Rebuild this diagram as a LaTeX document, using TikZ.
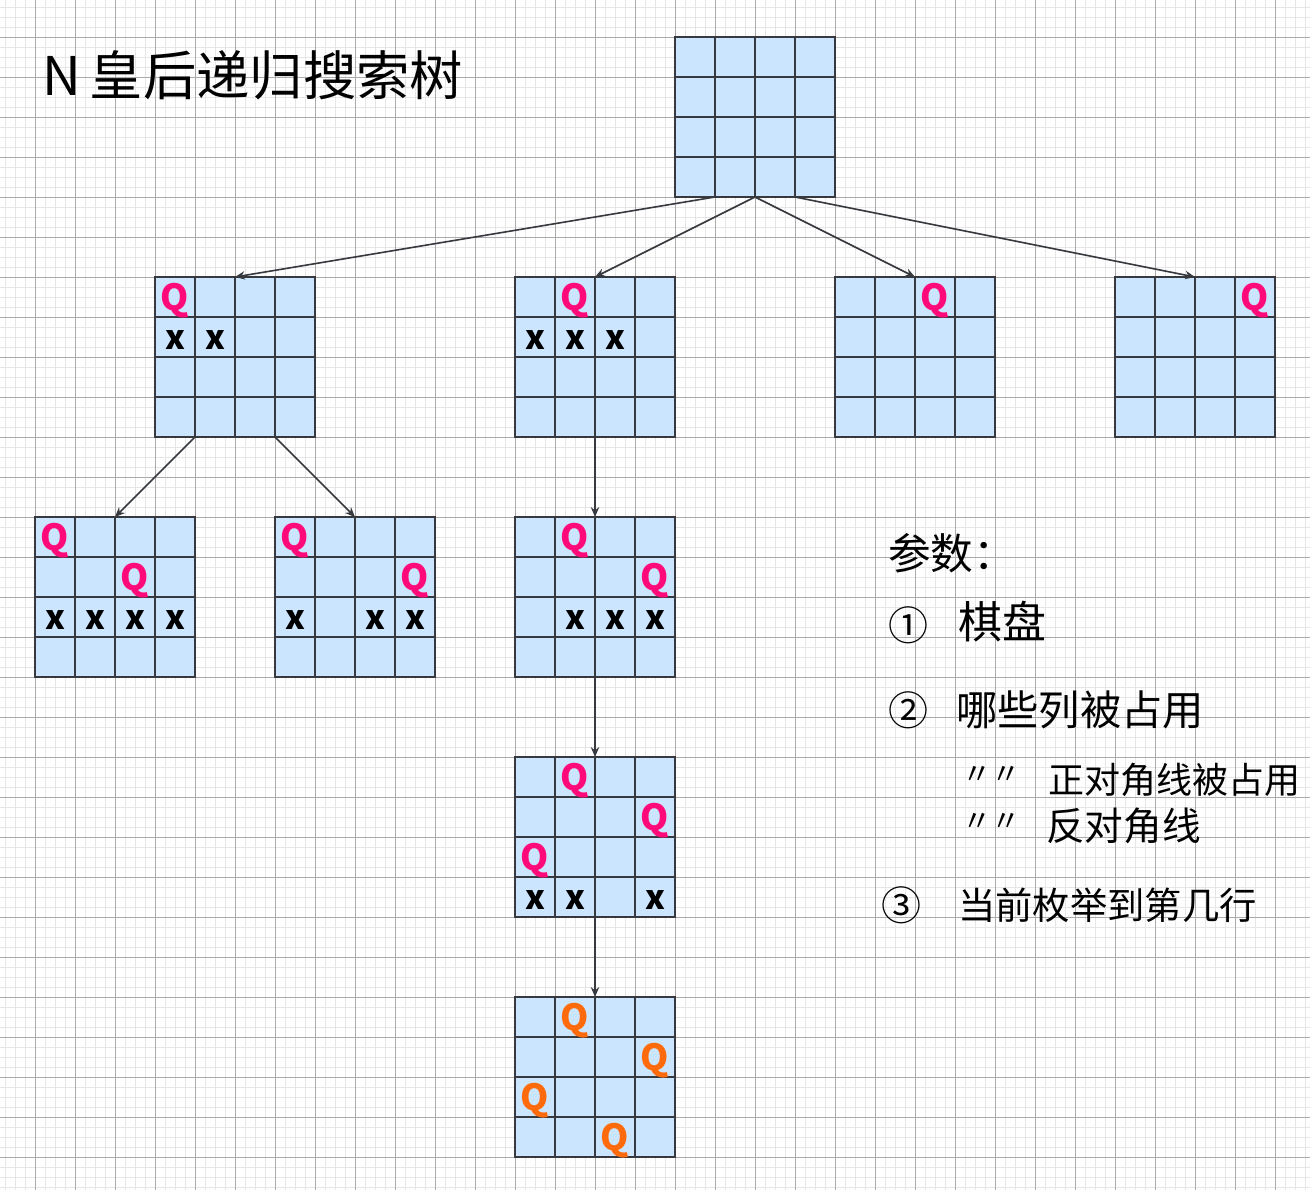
\documentclass[tikz,border=0pt]{standalone}
\usepackage{fontspec}
\setmainfont{Noto Sans CJK SC}
\usetikzlibrary{arrows.meta,positioning,calc}
\definecolor{CellBlue}{HTML}{CCE5FF}
\definecolor{EdgeGray}{HTML}{36393D}
\definecolor{QPink}{HTML}{FF0A78}
\definecolor{QOrange}{HTML}{FF6A0A}
\definecolor{MinorGray}{HTML}{E6E6E6}
\definecolor{MajorGray}{HTML}{ABABAB}

\begin{document}
\begin{tikzpicture}[x=0.75pt,y=-0.75pt,
  board/.style={draw=EdgeGray,line width=0.8pt,fill=CellBlue,
    minimum size=120pt,inner sep=0pt,outer sep=0pt},
  cellline/.style={draw=EdgeGray,line width=0.8pt},
  arr/.style={-{Stealth[length=2.6mm,width=2.2mm]},line width=1.2pt,EdgeGray},
  minorline/.style={MinorGray,line width=0.75pt},
  majorline/.style={MajorGray,line width=0.6pt},
  qp/.style={text=QPink,font=\fontsize{27}{27}\selectfont\bfseries,inner sep=0pt,yshift=-3pt},
  qo/.style={text=QOrange,font=\fontsize{27}{27}\selectfont\bfseries,inner sep=0pt,yshift=-3pt},
  xm/.style={text=black,font=\fontsize{25}{25}\selectfont\bfseries,inner sep=0pt,yshift=-2pt},
  note/.style={anchor=west,inner sep=0pt,text=black}]
  \useasboundingbox (0,0) rectangle (1310,1190);
  % paper
  \fill[white] (0,0) rectangle (1310,1190);
  \foreach \i in {5,15,...,1305} \draw[minorline] (\i,0) -- (\i,1190);
  \foreach \j in {7,17,...,1187} \draw[minorline] (0,\j) -- (1310,\j);
  \foreach \i in {35,75,...,1275} \draw[majorline] (\i,0) -- (\i,1190);
  \foreach \j in {37,77,...,1157} \draw[majorline] (0,\j) -- (1310,\j);

  % boards
  \node[board] (root) at (755,117) {};
  \node[board] (a1) at (235,357) {};
  \node[board] (a2) at (595,357) {};
  \node[board] (a3) at (915,357) {};
  \node[board] (a4) at (1195,357) {};
  \node[board] (b1) at (115,597) {};
  \node[board] (b2) at (355,597) {};
  \node[board] (b3) at (595,597) {};
  \node[board] (c3) at (595,837) {};
  \node[board] (d3) at (595,1077) {};
  \foreach \b in {root,a1,a2,a3,a4,b1,b2,b3,c3,d3}{
    \foreach \k in {1,2,3}{
      \draw[cellline] ($(\b.north west)+(\k*40,0)$) -- ($(\b.south west)+(\k*40,0)$);
      \draw[cellline] ($(\b.north west)+(0,\k*40)$) -- ($(\b.north east)+(0,\k*40)$);
    }
    \foreach \r in {0,...,3}
      \foreach \c in {0,...,3}
        \coordinate (\b-\r\c) at ($(\b.north west)+(\c*40+20,\r*40+20)$);
  }

  % tree edges
  \draw[arr] ($(root.south)+(-40,0)$) -- (a1.north);
  \draw[arr] (root.south) -- (a2.north);
  \draw[arr] (root.south) -- (a3.north);
  \draw[arr] ($(root.south)+(40,0)$) -- (a4.north);
  \draw[arr] ($(a1.south)+(-40,0)$) -- (b1.north);
  \draw[arr] ($(a1.south)+(40,0)$) -- (b2.north);
  \draw[arr] (a2.south) -- (b3.north);
  \draw[arr] (b3.south) -- (c3.north);
  \draw[arr] (c3.south) -- (d3.north);

  % queens and blocked cells
  \node[qp] (a1q0) at (a1-00) {Q};
  \node[xm] (a1x0) at (a1-10) {x};
  \node[xm] (a1x1) at (a1-11) {x};
  \node[qp] (a2q0) at (a2-01) {Q};
  \node[xm] (a2x0) at (a2-10) {x};
  \node[xm] (a2x1) at (a2-11) {x};
  \node[xm] (a2x2) at (a2-12) {x};
  \node[qp] (a3q0) at (a3-02) {Q};
  \node[qp] (a4q0) at (a4-03) {Q};
  \node[qp] (b1q0) at (b1-00) {Q};
  \node[qp] (b1q1) at (b1-12) {Q};
  \node[xm] (b1x0) at (b1-20) {x};
  \node[xm] (b1x1) at (b1-21) {x};
  \node[xm] (b1x2) at (b1-22) {x};
  \node[xm] (b1x3) at (b1-23) {x};
  \node[qp] (b2q0) at (b2-00) {Q};
  \node[qp] (b2q1) at (b2-13) {Q};
  \node[xm] (b2x0) at (b2-20) {x};
  \node[xm] (b2x2) at (b2-22) {x};
  \node[xm] (b2x3) at (b2-23) {x};
  \node[qp] (b3q0) at (b3-01) {Q};
  \node[qp] (b3q1) at (b3-13) {Q};
  \node[xm] (b3x1) at (b3-21) {x};
  \node[xm] (b3x2) at (b3-22) {x};
  \node[xm] (b3x3) at (b3-23) {x};
  \node[qp] (c3q0) at (c3-01) {Q};
  \node[qp] (c3q1) at (c3-13) {Q};
  \node[qp] (c3q2) at (c3-20) {Q};
  \node[xm] (c3x0) at (c3-30) {x};
  \node[xm] (c3x1) at (c3-31) {x};
  \node[xm] (c3x3) at (c3-33) {x};
  \node[qo] (d3q0) at (d3-01) {Q};
  \node[qo] (d3q1) at (d3-13) {Q};
  \node[qo] (d3q2) at (d3-20) {Q};
  \node[qo] (d3q3) at (d3-32) {Q};

  % notes
  \node[note,font=\fontsize{40}{42}\selectfont] (title) at (42,75) {N\,皇后递归搜索树};
  \node[note,font=\fontsize{32}{34}\selectfont] (params) at (888,553) {参数：};
  \node[note,font=\fontsize{30}{32}\selectfont] (n1) at (888,625) {①};
  \node[note,font=\fontsize{33}{35}\selectfont] (p1) at (958,622) {棋盘};
  \node[note,font=\fontsize{30}{32}\selectfont] (n2) at (888,710) {②};
  \node[note,font=\fontsize{31}{33}\selectfont] (p2) at (956,710) {哪些列被占用};
  \node[note,font=\fontsize{22}{24}\selectfont] (d1) at (962,775) {〃〃};
  \node[note,font=\fontsize{27}{29}\selectfont] (p2a) at (1048,780) {正对角线被占用};
  \node[note,font=\fontsize{22}{24}\selectfont] (d2) at (962,822) {〃〃};
  \node[note,font=\fontsize{29}{31}\selectfont] (p2b) at (1046,826) {反对角线};
  \node[note,font=\fontsize{30}{32}\selectfont] (n3) at (881,905) {③};
  \node[note,font=\fontsize{28}{30}\selectfont] (p3) at (958,905) {当前枚举到第几行};
\end{tikzpicture}
\end{document}
